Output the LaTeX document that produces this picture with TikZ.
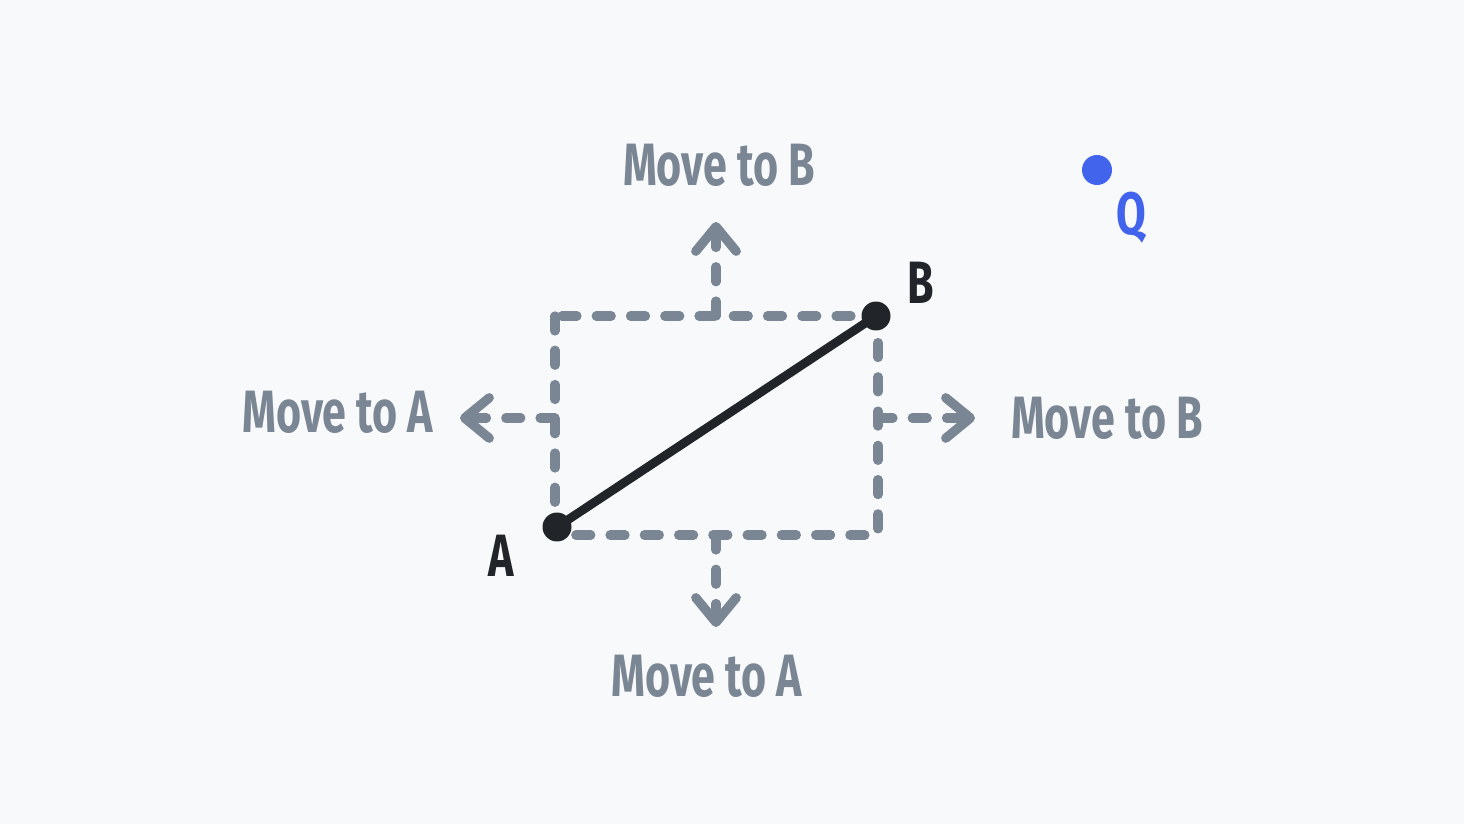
\documentclass[tikz,border=0pt]{standalone}
\usepackage{fontspec}
\setmainfont{Fira Sans}
\newfontfamily\handfont[FakeStretch=0.72]{Fira Sans}
\usetikzlibrary{arrows.meta,positioning}
\definecolor{bgcolor}{HTML}{F8F9FA}
\definecolor{guidecolor}{HTML}{7A8694}
\definecolor{segcolor}{HTML}{212529}
\definecolor{qcolor}{HTML}{4263EB}

\begin{document}
\begin{tikzpicture}[
    x=0.02cm, y=-0.02cm,
    guide/.style={guidecolor, line width=5.3pt, dash pattern=on 8.5pt off 11pt, line cap=round, line join=round},
    arrow/.style={guide, -{Straight Barb[length=14pt, width=23pt, line width=5.3pt, line cap=round, line join=round]}},
    pt/.style={circle, fill=segcolor, inner sep=0pt, minimum size=0.58cm},
    hint/.style={font=\handfont\fontsize{34}{40}\selectfont\bfseries, text=guidecolor},
    ptlabel/.style={font=\handfont\fontsize{34}{40}\selectfont\bfseries, text=segcolor}
]

% Background
\fill[bgcolor] (0,0) rectangle (1464,824);
\useasboundingbox (0,0) rectangle (1464,824);

% Bounding box of the segment
\coordinate (tl) at (555,316);
\coordinate (br) at (878,535);
\draw[guide] (tl) rectangle (br);

% Push directions
\coordinate (topmid) at (716,316);
\coordinate (toptip) at (716,222);
\coordinate (botmid) at (716,535);
\coordinate (bottip) at (716,627);
\coordinate (leftmid) at (555,418);
\coordinate (lefttip) at (460,418);
\coordinate (rightmid) at (878,418);
\coordinate (righttip) at (975,418);
\draw[arrow] (topmid) -- (toptip);
\draw[arrow] (botmid) -- (bottip);
\draw[arrow] (leftmid) -- (lefttip);
\draw[arrow] (rightmid) -- (righttip);

% Segment AB
\node[pt] (a) at (557,527) {};
\node[pt] (b) at (876,316) {};
\draw[segcolor, line width=5pt] (a.center) -- (b.center);

% Labels
\node[ptlabel] (alabel) at (501,556) {A};
\node[ptlabel] (blabel) at (921,283) {B};
\node[hint] (toplabel) at (719,165) {Move to B};
\node[hint] (botlabel) at (707,676) {Move to A};
\node[hint] (leftlabel) at (338,412) {Move to A};
\node[hint] (rightlabel) at (1107,418) {Move to B};

% Query point
\node[circle, fill=qcolor, inner sep=0pt, minimum size=0.6cm] (q) at (1097,170) {};
\node[font=\handfont\fontsize{34}{40}\selectfont\bfseries, text=qcolor] (qlabel) at (1131,218) {Q};

\end{tikzpicture}
\end{document}
